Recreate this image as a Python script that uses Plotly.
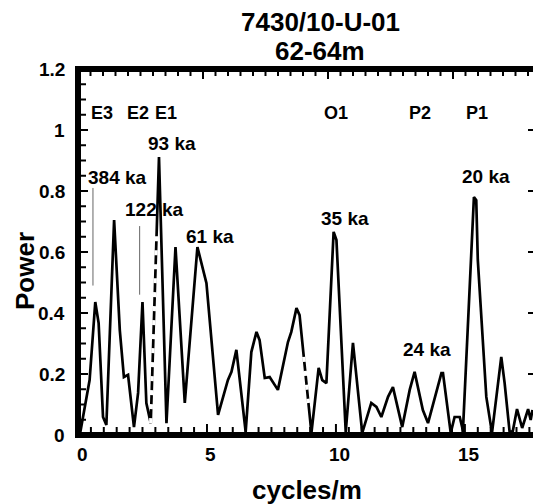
import plotly.graph_objects as go

# Spectral power of the 62-64 m interval (frequency in cycles/m)
freq = [0.07, 0.45, 0.67, 0.80, 0.97, 1.10, 1.40, 1.62, 1.78, 1.94,
        2.17, 2.33, 2.50, 2.65, 2.82, 3.14, 3.43, 3.78, 4.14, 4.63,
        4.98, 5.43, 5.81, 5.95, 6.14, 6.50, 6.72, 6.92, 7.04, 7.24,
        7.43, 7.75, 8.14, 8.27, 8.47, 8.59, 9.05, 9.33, 9.47, 9.63,
        9.91, 10.02, 10.38, 10.66, 11.02, 11.37, 11.57, 11.76, 12.02, 12.21,
        12.57, 12.86, 13.05, 13.37, 13.57, 14.09, 14.15, 14.45, 14.60, 14.80,
        14.90, 14.92, 15.35, 15.44, 15.50, 15.83, 16.05, 16.41, 16.54, 16.73,
        16.85, 17.02, 17.22, 17.45, 17.55, 17.62]
power = [0.000, 0.180, 0.436, 0.367, 0.059, 0.033, 0.705, 0.344, 0.190, 0.197,
         0.026, 0.138, 0.436, 0.105, 0.039, 0.911, 0.039, 0.616, 0.105, 0.616,
         0.498, 0.066, 0.180, 0.207, 0.279, 0.010, 0.272, 0.338, 0.311, 0.187,
         0.190, 0.148, 0.305, 0.338, 0.416, 0.393, 0.007, 0.220, 0.180, 0.170,
         0.666, 0.639, 0.010, 0.302, 0.007, 0.105, 0.092, 0.059, 0.125, 0.157,
         0.026, 0.148, 0.207, 0.082, 0.039, 0.203, 0.203, 0.007, 0.059, 0.059,
         0.023, 0.007, 0.780, 0.770, 0.574, 0.125, 0.007, 0.256, 0.170, 0.013,
         0.010, 0.085, 0.023, 0.085, 0.049, 0.082]

# Orbital band labels above the spectrum
band_labels = ["E3", "E2", "E1", "O1", "P2", "P1"]
band_x = [0.92, 2.31, 3.40, 9.99, 13.24, 15.45]
band_y = 1.056

# Period labels of the main peaks
period_labels = ["93 ka", "384 ka", "122 ka", "61 ka", "35 ka", "20 ka", "24 ka"]
period_x = [3.63, 1.54, 2.97, 5.10, 10.34, 15.80, 13.52]
period_y = [0.957, 0.843, 0.738, 0.652, 0.711, 0.846, 0.279]

# Thin leader lines under the long-period labels
leader_x = [0.58, 2.39]
leader_y0 = [0.49, 0.46]
leader_y1 = [0.81, 0.685]

# White dashed breaks laid over two curve segments: (segment start freq, t0, t1)
breaks = [(2.82, 0.0, 0.73), (8.59, 0.355, 0.746)]

# Tick values and labels
y_ticks = [0, 0.2, 0.4, 0.6, 0.8, 1.0, 1.2]
y_ticktext = ["0", "0.2", "0.4", "0.6", "0.8", "1", "1.2"]
x_ticks = [0, 5, 10, 15]
x_ticktext = ["0", "5", "10", "15"]

# tick rows drawn on the frame
X_MAX, Y_MAX = 17.64, 1.2
bottom_ticks = [i * 0.5 for i in range(36)]
left_ticks = [i * 0.05 for i in range(25)]
top_span = 18.2                      # the top frame runs on its own span
top_ticks = [i * 0.5 for i in range(37)]
right_ticks = y_ticks[1:]

PLOT_W, PLOT_H = 455, 366            # plot area size in px
XPX = X_MAX / PLOT_W                 # data units per px, horizontal
YPX = Y_MAX / PLOT_H                 # data units per px, vertical
FONT = "Arial, Liberation Sans, Helvetica, sans-serif"


def bold(size):
    return dict(family=FONT, size=size, color="black", weight="bold")


fig = go.Figure()
fig.add_trace(go.Scatter(x=freq, y=power, mode="lines",
                         line=dict(color="black", width=2.7),
                         hoverinfo="skip", showlegend=False))

for f0, t0, t1 in breaks:
    i = freq.index(f0)
    xa, xb = freq[i], freq[i + 1]
    ya, yb = power[i], power[i + 1]
    fig.add_trace(go.Scatter(
        x=[xa + t0 * (xb - xa), xa + t1 * (xb - xa)],
        y=[ya + t0 * (yb - ya), ya + t1 * (yb - ya)],
        mode="lines", line=dict(color="white", width=3.4, dash="5px,9px"),
        hoverinfo="skip", showlegend=False))

# leader lines
lx, ly = [], []
for x, a, b in zip(leader_x, leader_y0, leader_y1):
    lx += [x, x, None]
    ly += [a, b, None]
fig.add_trace(go.Scatter(x=lx, y=ly, mode="lines", line=dict(color="#666666", width=1),
                         hoverinfo="skip", showlegend=False))

# tick marks on all four sides, as one segmented line
tx, ty = [], []
for v in bottom_ticks:
    ln = 11 if v % 5 == 0 else 8
    tx += [v, v, None]
    ty += [0, ln * YPX, None]
for v in left_ticks:
    ln = 10 if round(v * 100) % 20 == 0 else 8
    tx += [0, ln * XPX, None]
    ty += [v, v, None]
for v in top_ticks:
    ln = 10 if v % 5 == 0 else 7
    xv = v * X_MAX / top_span
    tx += [xv, xv, None]
    ty += [Y_MAX, Y_MAX - ln * YPX, None]
for v in right_ticks:
    tx += [X_MAX - 5 * XPX, X_MAX, None]
    ty += [v, v, None]
fig.add_trace(go.Scatter(x=tx, y=ty, mode="lines", line=dict(color="black", width=2),
                         hoverinfo="skip", showlegend=False))

# frame: left, bottom and top edges
fig.add_trace(go.Scatter(x=[0, 0, None, 0, X_MAX, None, 0, X_MAX],
                         y=[0, Y_MAX, None, 0, 0, None, Y_MAX, Y_MAX],
                         mode="lines", line=dict(color="black", width=6),
                         hoverinfo="skip", showlegend=False))

# tick labels
for v, t in zip(x_ticks, x_ticktext):
    fig.add_annotation(x=v, y=-0.052, xref="x", yref="paper", text=t, xshift=4,
                       showarrow=False, xanchor="center", yanchor="middle", font=bold(19))
for v, t in zip(y_ticks, y_ticktext):
    fig.add_annotation(x=-0.024, y=v, xref="paper", yref="y", text=t,
                       showarrow=False, xanchor="right", yanchor="middle", font=bold(19))

for t, x in zip(band_labels, band_x):
    fig.add_annotation(x=x, y=band_y, text=t, showarrow=False,
                       xanchor="center", yanchor="middle", font=bold(18))

for t, x, y in zip(period_labels, period_x, period_y):
    fig.add_annotation(x=x, y=y, text=t, showarrow=False,
                       xanchor="center", yanchor="middle", font=bold(19))

# title and axis titles
paper_text = [
    ("7430/10-U-01", 0.532, 1.128, 0),
    ("62-64m", 0.532, 1.048, 0),
    ("Power", -0.1165, 0.448, -90),
    ("cycles/m", 0.504, -0.150, 0),
]
for t, x, y, ang in paper_text:
    fig.add_annotation(x=x, y=y, xref="paper", yref="paper", text=t,
                       textangle=ang, showarrow=False,
                       xanchor="center", yanchor="middle", font=bold(26))

fig.update_layout(
    width=533, height=504,
    margin=dict(l=78, r=0, t=69, b=69),
    paper_bgcolor="white", plot_bgcolor="white",
    showlegend=False,
    xaxis=dict(range=[0, X_MAX], showline=True, linewidth=3, linecolor="black",
               mirror=True, ticks="", showticklabels=False,
               showgrid=False, zeroline=False),
    yaxis=dict(range=[0, Y_MAX], showline=True, linewidth=3, linecolor="black",
               ticks="", showticklabels=False, showgrid=False, zeroline=False),
)

fig.write_html("out.html")
